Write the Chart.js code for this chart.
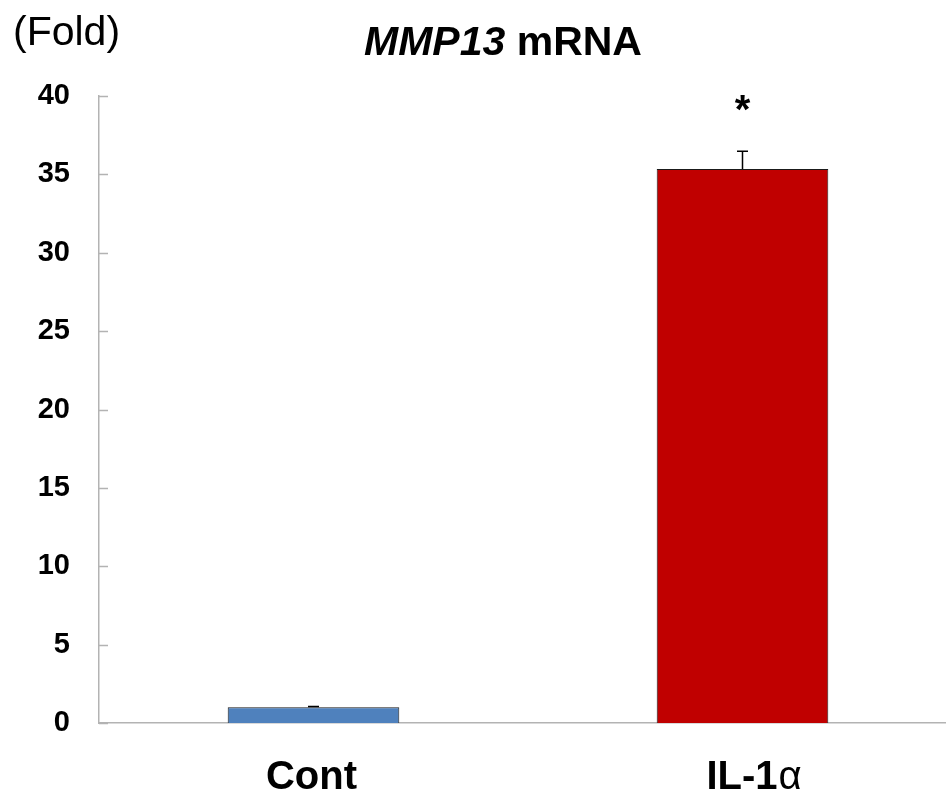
<!DOCTYPE html>
<html>
<head>
<meta charset="utf-8">
<script src="https://cdn.jsdelivr.net/npm/chart.js@4.4.1/dist/chart.umd.min.js"></script>
<style>
  html, body { margin: 0; padding: 0; background: #fff; overflow: hidden; }
  #chart { display: block; }
</style>
</head>
<body>
<canvas id="chart" width="960" height="793"></canvas>
<script>
// data
const categories = ['Cont', 'IL-1α'];
const foldValues = [1.0, 35.35];
const errorValues = [0.06, 1.12];
const barColors = ['#4F81BD', '#C00000'];
const significant = [false, true];
const yMin = 0;
const yMax = 40;
const yStep = 5;

const FONT = '"Liberation Sans", Arial, sans-serif';

// error bars, inner ticks, title and mixed-font labels
const extrasPlugin = {
  id: 'extras',
  afterDatasetsDraw(chart) {
    const ctx = chart.ctx;
    const y = chart.scales.y;
    const meta = chart.getDatasetMeta(0);
    ctx.save();
    ctx.strokeStyle = '#000';
    ctx.lineWidth = 1.5;
    meta.data.forEach((bar, i) => {
      const top = y.getPixelForValue(foldValues[i]);
      const end = y.getPixelForValue(foldValues[i] + errorValues[i]);
      ctx.beginPath();
      ctx.moveTo(bar.x, top);
      ctx.lineTo(bar.x, end);
      ctx.moveTo(bar.x - 5.5, end);
      ctx.lineTo(bar.x + 5.5, end);
      ctx.stroke();
      if (significant[i]) {
        ctx.fillStyle = '#000';
        ctx.font = 'bold 40px ' + FONT;
        ctx.textAlign = 'center';
        ctx.textBaseline = 'alphabetic';
        ctx.fillText('*', bar.x, end - 28);
      }
    });
    ctx.restore();
  },
  afterDraw(chart) {
    const ctx = chart.ctx;
    const y = chart.scales.y;
    const area = chart.chartArea;
    ctx.save();

    // inward tick marks on the y axis
    ctx.strokeStyle = '#b3b3b3';
    ctx.lineWidth = 1.5;
    for (let v = yMin; v <= yMax; v += yStep) {
      const py = Math.round(y.getPixelForValue(v)) + 0.5;
      ctx.beginPath();
      ctx.moveTo(area.left, py);
      ctx.lineTo(area.left + 9, py);
      ctx.stroke();
    }

    ctx.fillStyle = '#000';
    ctx.textBaseline = 'alphabetic';

    // (Fold)
    ctx.textAlign = 'left';
    ctx.font = '41px ' + FONT;
    ctx.fillText('(Fold)', 13, 45);

    // title: MMP13 (italic) mRNA
    const p1 = 'MMP13';
    const p2 = ' mRNA';
    ctx.font = 'italic bold 41px ' + FONT;
    const w1 = ctx.measureText(p1).width;
    ctx.font = 'bold 41px ' + FONT;
    const w2 = ctx.measureText(p2).width;
    let tx = 503 - (w1 + w2) / 2;
    ctx.font = 'italic bold 41px ' + FONT;
    ctx.fillText(p1, tx, 55);
    ctx.font = 'bold 41px ' + FONT;
    ctx.fillText(p2, tx + w1, 55);

    // category labels
    const x = chart.scales.x;
    categories.forEach((c, i) => {
      const cx = x.getPixelForValue(i);
      const m = c.indexOf('α');
      if (m < 0) {
        ctx.font = 'bold 40px ' + FONT;
        ctx.textAlign = 'center';
        ctx.fillText(c, cx - 2, 789);
      } else {
        const a = c.slice(0, m);
        ctx.font = 'bold 40px ' + FONT;
        const wa = ctx.measureText(a).width;
        ctx.font = '40px ' + FONT;
        const wb = ctx.measureText('α').width;
        const sx = cx + 11 - (wa + wb) / 2;
        ctx.textAlign = 'left';
        ctx.font = 'bold 40px ' + FONT;
        ctx.fillText(a, sx, 789);
        ctx.font = '40px ' + FONT;
        ctx.fillText('α', sx + wa + 1, 789);
      }
    });
    ctx.restore();
  }
};

new Chart(document.getElementById('chart'), {
  type: 'bar',
  data: {
    labels: categories,
    datasets: [{
      data: foldValues,
      backgroundColor: barColors,
      borderColor: '#1a1a1a',
      borderWidth: 1,
      barPercentage: 0.4,
      categoryPercentage: 1.0
    }]
  },
  options: {
    responsive: false,
    animation: false,
    devicePixelRatio: 1,
    layout: { padding: { top: 96, right: 3, bottom: 70, left: 0 } },
    plugins: {
      legend: { display: false },
      tooltip: { enabled: false },
      title: { display: false }
    },
    scales: {
      x: {
        grid: { display: false, drawTicks: false },
        border: { display: true, color: '#b3b3b3', width: 1.5 },
        ticks: { display: false },
        afterFit(scale) { scale.height = 0; }
      },
      y: {
        min: yMin,
        max: yMax,
        grid: { display: false, drawTicks: false },
        border: { display: true, color: '#b3b3b3', width: 1.5 },
        ticks: {
          stepSize: yStep,
          color: '#000',
          padding: 29,
          font: { family: FONT, size: 29, weight: 'bold' }
        },
        afterFit(scale) { scale.width = 99; }
      }
    }
  },
  plugins: [extrasPlugin]
});
</script>
</body>
</html>
